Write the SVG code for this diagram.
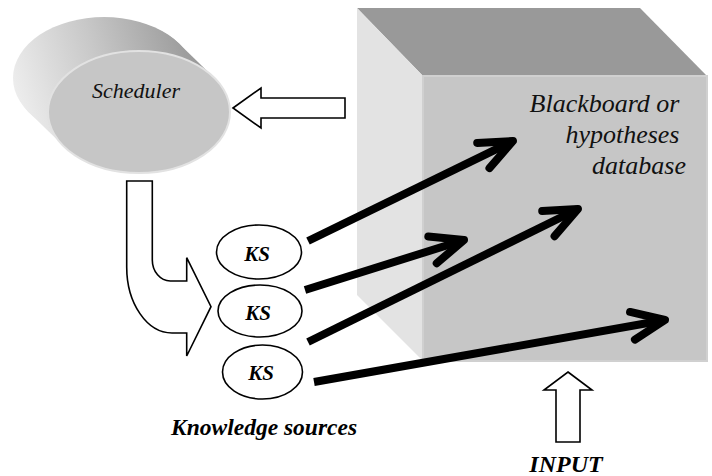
<svg xmlns="http://www.w3.org/2000/svg" width="712" height="476" viewBox="0 0 712 476">
  <style>
    text { font-family: "Liberation Serif", "Times New Roman", "DejaVu Serif", serif; }
    .it { font-style: italic; }
    .bi { font-style: italic; font-weight: bold; }
    .ks { fill: #ffffff; stroke: #000000; stroke-width: 1.6; }
    .block { fill: #ffffff; stroke: #000000; stroke-width: 1.6; stroke-linejoin: miter; }
    .thick { fill: none; stroke: #000000; stroke-width: 8; stroke-linecap: butt; }
  </style>
  <defs>
    <linearGradient id="cylGrad" gradientUnits="userSpaceOnUse" x1="15" y1="100" x2="205" y2="40">
      <stop offset="0" stop-color="#eeeeee"/>
      <stop offset="0.45" stop-color="#c8c8c8"/>
      <stop offset="1" stop-color="#939393"/>
    </linearGradient>
    <marker id="head" markerUnits="userSpaceOnUse" markerWidth="60" markerHeight="60" refX="0" refY="0" viewBox="-45 -30 60 60" orient="auto" overflow="visible">
      <path d="M-33,-14 L0,0 L-33,14" fill="none" stroke="#000000" stroke-width="8" stroke-linecap="round" stroke-linejoin="round"/>
    </marker>
  </defs>

  <rect width="712" height="476" fill="#ffffff"/>

  <g id="blackboard">
    <polygon points="357,8 640,8 707,76 423,76" fill="#999999"/>
    <polygon points="357,8 423,76 423,361 357,295" fill="#e3e3e3"/>
    <rect x="423" y="76" width="284" height="285" fill="#c6c6c6" stroke="#d0d0d0" stroke-width="2"/>
    <text class="it" font-size="26" text-anchor="end" fill="#111111">
      <tspan x="686" y="112">Blackboard or</tspan>
      <tspan x="686" y="143">hypotheses</tspan>
      <tspan x="686" y="174">database</tspan>
    </text>
  </g>

  <g id="scheduler">
    <path d="M213.9,77.4 L178.9,43.4 A91,61 0 0 0 29.1,112.6 L64.1,146.6 Z" fill="url(#cylGrad)"/>
    <ellipse cx="104" cy="78" rx="91" ry="61" fill="url(#cylGrad)"/>
    <ellipse cx="139" cy="112" rx="91" ry="61" fill="#c6c6c6" stroke="#e2e2e2" stroke-width="2"/>
    <text class="it" x="136" y="98" font-size="22" text-anchor="middle" fill="#111111">Scheduler</text>
  </g>

  <g id="ks1">
    <ellipse class="ks" cx="259" cy="252" rx="42.5" ry="27"/>
    <text class="bi" x="257" y="261" font-size="21" text-anchor="middle">KS</text>
  </g>
  <g id="ks2">
    <ellipse class="ks" cx="260" cy="311" rx="42" ry="26"/>
    <text class="bi" x="258" y="320" font-size="21" text-anchor="middle">KS</text>
  </g>
  <g id="ks3">
    <ellipse class="ks" cx="262.5" cy="372" rx="40" ry="27"/>
    <text class="bi" x="261" y="380" font-size="21" text-anchor="middle">KS</text>
  </g>

  <g id="labels">
    <text class="bi" x="171" y="435" font-size="23.5">Knowledge sources</text>
    <text class="bi" x="566" y="472" font-size="24" text-anchor="middle">INPUT</text>
  </g>

  <g id="connectors">
    <polygon class="block" points="233,108 261,88 261,98 345,98 345,118 261,118 261,128"/>
    <path class="block" d="M126.7,181 L152.3,181 L152.3,260 A18,21 0 0 0 170.3,281 L186.7,281 L186.7,257.7 L211,306.7 L186.7,356 L186.7,333 L172,333 A45.3,66 0 0 1 126.7,267 Z"/>
    <polygon class="block" points="568,372 592,390 580,390 580,442 556,442 556,390 544,390"/>
    <line class="thick" x1="308" y1="241" x2="513" y2="141" marker-end="url(#head)"/>
    <line class="thick" x1="305" y1="290" x2="464" y2="240" marker-end="url(#head)"/>
    <line class="thick" x1="308" y1="342" x2="578" y2="209" marker-end="url(#head)"/>
    <line class="thick" x1="314" y1="382" x2="665" y2="320" marker-end="url(#head)"/>
  </g>
</svg>
